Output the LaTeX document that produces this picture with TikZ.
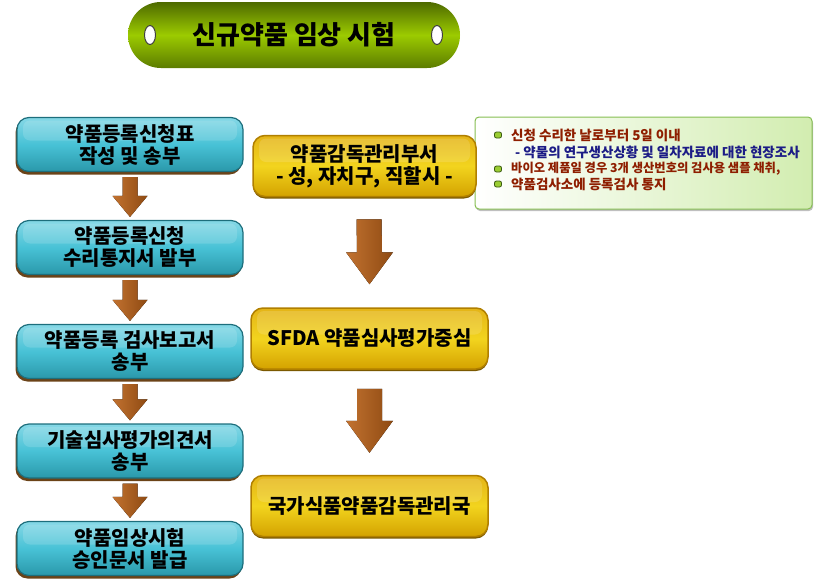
\documentclass[tikz,border=0pt]{standalone}
\usepackage{fontspec}
\newfontfamily\kr{Noto Sans CJK KR}
\usetikzlibrary{calc,shadows,shapes.geometric}
\definecolor{tealTop}{HTML}{86D8E6}
\definecolor{tealMid}{HTML}{48C2D6}
\definecolor{tealBot}{HTML}{2A98AA}
\definecolor{tealEdge}{HTML}{1D6E7C}
\definecolor{shbrown}{HTML}{6B4318}
\definecolor{goldTop}{HTML}{E4B418}
\definecolor{goldMid}{HTML}{F2D41E}
\definecolor{goldBot}{HTML}{D4A200}
\definecolor{goldEdge}{HTML}{B07F00}
\definecolor{arrL}{HTML}{C27230}
\definecolor{arrR}{HTML}{8E4A12}
\definecolor{olvTop}{HTML}{4E6A00}
\definecolor{olvMid}{HTML}{9CCB00}
\definecolor{olvBot}{HTML}{5C7C00}
\definecolor{infoR}{HTML}{D2EDB0}
\definecolor{infoEdge}{HTML}{86BE52}
\definecolor{redtxt}{HTML}{8E1E00}
\definecolor{bluetxt}{HTML}{1C1C86}
\definecolor{bulG}{HTML}{9ACD32}
\definecolor{bulD}{HTML}{3A5A10}
\tikzset{
  gloss/.style={path picture={\fill[white,opacity=0.14,rounded corners=7pt]
      ($(path picture bounding box.north west)+(6pt,-3pt)$) rectangle
      ($(path picture bounding box.east)+(-6pt,4pt)$);}},
  tealbox/.style={rectangle, rounded corners=12pt, minimum width=226pt,
      minimum height=54pt, top color=tealTop, bottom color=tealBot,
      middle color=tealMid, draw=tealEdge, line width=1.2pt,
      drop shadow={shadow xshift=-1.5pt, shadow yshift=-3pt, fill=shbrown, opacity=1},
      gloss, font=\kr\bfseries\fontsize{20}{22}\selectfont, align=center, inner sep=1pt},
  goldbox/.style={rectangle, rounded corners=12pt, minimum height=61pt,
      top color=goldTop, bottom color=goldBot, middle color=goldMid,
      draw=goldEdge, line width=1.5pt,
      drop shadow={shadow xshift=0pt, shadow yshift=-2pt, fill=goldEdge!70!black, opacity=1},
      gloss, font=\kr\bfseries\fontsize{20}{22}\selectfont, align=center, inner sep=1pt},
  arrowfill/.style={left color=arrL, right color=arrR},
  hole/.style={ellipse, minimum width=11pt, minimum height=19pt, inner sep=0pt,
      fill=white, draw=black!75, line width=1pt},
  infotxt/.style={anchor=west, inner sep=0pt, font=\kr\bfseries\fontsize{13.5}{15}\selectfont},
  bul/.style={rectangle, rounded corners=2pt, minimum width=7pt, minimum height=6pt,
      inner sep=0pt, fill=bulG, draw=bulD, line width=0.8pt}
}
\newcommand\blockarrow[5]{%
  \fill[arrowfill] ($(#1)+(-#3,0)$) -- ($(#1)+(#3,0)$) -- ($(#2)+(#3,-#5)$)
    -- ($(#2)+(#4,-#5)$) -- (#2) -- ($(#2)+(-#4,-#5)$) -- ($(#2)+(-#3,-#5)$) -- cycle;}
\begin{document}
\begin{tikzpicture}[x=1pt,y=-1pt]
\useasboundingbox (0,0) rectangle (816,581);
% title
\node (title) [rectangle, rounded corners=33pt, minimum width=332pt, minimum height=66pt,
  top color=olvTop, bottom color=olvBot, middle color=olvMid,
  font=\kr\bfseries\fontsize{26}{30}\selectfont] at (294,35) {신규약품 임상 시험};
\node[hole] (h1) at (150,35) {};
\node[hole] (h2) at (437,35) {};
% info box
\node (info) [rectangle, rounded corners=4pt, minimum width=337pt, minimum height=92pt,
  left color=white, right color=infoR, draw=infoEdge, line width=1pt,
  drop shadow={shadow xshift=1pt, shadow yshift=-2pt, fill=black!25, opacity=1}] at (643.5,163) {};
\node[bul] (u1) at (498,135) {};
\node[bul] (u3) at (498,169) {};
\node[bul] (u4) at (498,184) {};
\node[infotxt, text=redtxt] (l1) at (511,135) {신청 수리한 날로부터 5일 이내};
\node[infotxt, text=bluetxt] (l2) at (515,152) {- 약물의 연구생산상황 및 일차자료에 대한 현장조사};
\node[infotxt, text=redtxt, font=\kr\bfseries\fontsize{12.3}{15}\selectfont] (l3) at (511,169) {바이오 제품일 경우 3개 생산번호의 검사용 샘플 채취,};
\node[infotxt, text=redtxt] (l4) at (511,184) {약품검사소에 등록검사 통지};
% left column
\node[tealbox] (b1) at (130,144.5) {약품등록신청표\\작성 및 송부};
\node[tealbox] (b2) at (130,247.5) {약품등록신청\\수리통지서 발부};
\node[tealbox] (b3) at (130,351.5) {약품등록 검사보고서\\송부};
\node[tealbox] (b4) at (130,451) {기술심사평가의견서\\송부};
\node[tealbox] (b5) at (130,548.5) {약품임상시험\\승인문서 발급};
% right column
\node[goldbox, minimum width=223pt] (r1) at (364.5,166) {약품감독관리부서\\- 성, 자치구, 직할시 -};
\node[goldbox, minimum width=237pt] (r2) at (369.5,338.5) {SFDA 약품심사평가중심};
\node[goldbox, minimum width=237pt] (r3) at (369.5,506) {국가식품약품감독관리국};
% arrows
\blockarrow{$(b1.south)+(0,5)$}{$(b2.north)+(0,-3)$}{7.5}{17.5}{21}
\blockarrow{$(b2.south)+(0,5)$}{$(b3.north)+(0,-3)$}{7.5}{17.5}{21}
\blockarrow{$(b3.south)+(0,5)$}{$(b4.north)+(0,-3)$}{7.5}{17.5}{21}
\blockarrow{$(b4.south)+(0,5)$}{$(b5.north)+(0,-3)$}{7.5}{17.5}{21}
\blockarrow{$(r1.south)+(4.5,22)$}{$(r2.north)+(0,-23)$}{12.5}{23.5}{32}
\blockarrow{$(r2.south)+(0,19)$}{$(r3.north)+(0,-22)$}{12.5}{23.5}{32}
\end{tikzpicture}
\end{document}
